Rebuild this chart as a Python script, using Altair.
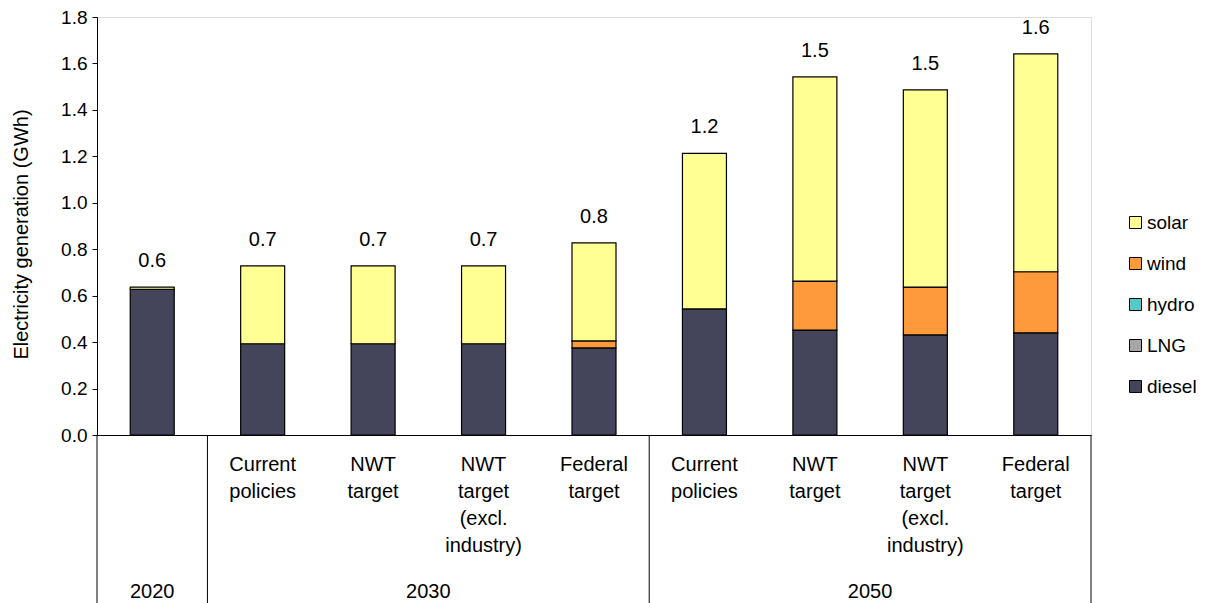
import altair as alt
import pandas as pd

# Scenario bars, left to right
years = ["2020", "2030", "2030", "2030", "2030", "2050", "2050", "2050", "2050"]
scenarios = ["", "Current\npolicies", "NWT\ntarget", "NWT\ntarget\n(excl.\nindustry)", "Federal\ntarget",
             "Current\npolicies", "NWT\ntarget", "NWT\ntarget\n(excl.\nindustry)", "Federal\ntarget"]

# Generation by source (GWh)
diesel = [0.627, 0.393, 0.393, 0.393, 0.375, 0.543, 0.452, 0.431, 0.440]
lng = [0, 0, 0, 0, 0, 0, 0, 0, 0]
hydro = [0, 0, 0, 0, 0, 0, 0, 0, 0]
wind = [0, 0, 0, 0, 0.030, 0, 0.211, 0.206, 0.263]
solar = [0.010, 0.335, 0.335, 0.335, 0.422, 0.670, 0.879, 0.849, 0.938]

sources = ["solar", "wind", "hydro", "LNG", "diesel"]
colors = ["#FFFF93", "#FF9A3C", "#55C8C8", "#A6A6A6", "#44445A"]
stack_rank = {"diesel": 0, "LNG": 1, "hydro": 2, "wind": 3, "solar": 4}

series = {"diesel": diesel, "LNG": lng, "hydro": hydro, "wind": wind, "solar": solar}

rows = []
for i in range(len(years)):
    for name, vals in series.items():
        if vals[i] > 0:
            rows.append({"pos": i + 0.5, "source": name, "value": vals[i], "rank": stack_rank[name]})
bars_df = pd.DataFrame(rows)

totals_df = pd.DataFrame({
    "pos": [i + 0.5 for i in range(len(years))],
    "total": [diesel[i] + lng[i] + hydro[i] + wind[i] + solar[i] for i in range(len(years))],
})

cat_df = pd.DataFrame({"pos": [i + 0.5 for i in range(len(years))], "label": scenarios})

# Year groups: first and last bar index of each
groups = []
for i, y in enumerate(years):
    if groups and groups[-1]["year"] == y:
        groups[-1]["end"] = i + 1
    else:
        groups.append({"year": y, "start": i, "end": i + 1})
year_df = pd.DataFrame({
    "pos": [(g["start"] + g["end"]) / 2 for g in groups],
    "year": [g["year"] for g in groups],
})
bounds = sorted({g["start"] for g in groups} | {g["end"] for g in groups})
bound_df = pd.DataFrame({"pos": bounds})

W, H = 994, 418
FONT = "Liberation Sans"

xscale = alt.Scale(domain=[0, len(years)], nice=False, zero=False, padding=0)
yscale = alt.Scale(domain=[0, 1.8], nice=False, padding=0)

bars = alt.Chart(bars_df).mark_bar(size=44, stroke="#000000", strokeWidth=1.2).encode(
    x=alt.X("pos:Q", scale=xscale,
            axis=alt.Axis(labels=False, ticks=False, grid=False, title=None,
                          domainColor="#000000", domainWidth=1)),
    y=alt.Y("sum(value):Q", scale=yscale, stack="zero",
            axis=alt.Axis(title="Electricity generation (GWh)", values=[0, 0.2, 0.4, 0.6, 0.8, 1.0, 1.2, 1.4, 1.6, 1.8],
                          format=".1f", grid=False, domainColor="#000000", tickColor="#000000",
                          tickSize=5, labelPadding=5, labelFontSize=19, labelFont=FONT,
                          labelColor="#000000", titleFont=FONT, titleFontSize=20,
                          titleFontWeight="normal", titleColor="#000000", titlePadding=29,
                          titleY=217)),
    color=alt.Color("source:N", scale=alt.Scale(domain=sources, range=colors),
                    legend=alt.Legend(title=None, orient="none", legendX=1029, legendY=196,
                                      symbolType="square", symbolSize=144,
                                      symbolStrokeColor="#000000", symbolStrokeWidth=1,
                                      symbolOpacity=1, labelFont=FONT, labelFontSize=19,
                                      labelColor="#000000", labelOffset=2, rowPadding=21,
                                      padding=0)),
    order=alt.Order("rank:Q", sort="ascending"),
)

total_labels = alt.Chart(totals_df).mark_text(
    font=FONT, fontSize=20, color="#000000", baseline="alphabetic", dy=-20
).encode(
    x=alt.X("pos:Q", scale=xscale),
    y=alt.Y("total:Q", scale=yscale),
    text=alt.Text("total:Q", format=".1f"),
)

cat_labels = alt.Chart(cat_df).mark_text(
    font=FONT, fontSize=20, color="#000000", baseline="top", lineBreak="\n", lineHeight=27
).encode(
    x=alt.X("pos:Q", scale=xscale),
    y=alt.value(H + 20),
    text="label:N",
)

year_labels = alt.Chart(year_df).mark_text(
    font=FONT, fontSize=20, color="#000000", baseline="middle"
).encode(
    x=alt.X("pos:Q", scale=xscale),
    y=alt.value(H + 157),
    text="year:N",
)

dividers = alt.Chart(bound_df).mark_rule(color="#000000", strokeWidth=1).encode(
    x=alt.X("pos:Q", scale=xscale),
    y=alt.value(H),
    y2=alt.value(H + 170),
)

chart = alt.layer(bars, total_labels, cat_labels, year_labels, dividers).properties(
    width=W, height=H,
    autosize=alt.AutoSizeParams(type="none"),
    padding={"left": 97, "top": 17, "right": 129, "bottom": 168},
).configure_view(stroke=None).configure(background="#ffffff")

chart.save("out.html", embed_options={"renderer": "svg", "actions": False})
